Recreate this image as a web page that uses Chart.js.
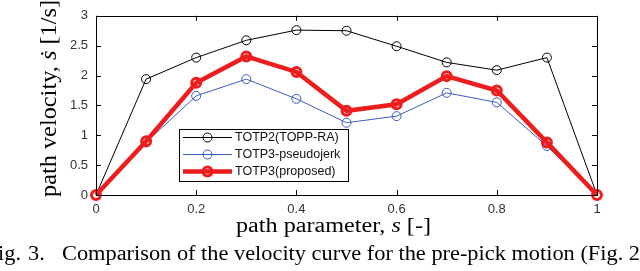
<!DOCTYPE html>
<html>
<head>
<meta charset="utf-8">
<script src="https://cdn.jsdelivr.net/npm/chart.js@4.4.1/dist/chart.umd.min.js"></script>
<style>
  html, body { margin: 0; padding: 0; background: #fff; }
  #wrap { width: 640px; height: 271px; }
</style>
</head>
<body>
<div id="wrap"><canvas id="velChart" width="640" height="271"></canvas></div>
<script>
// ----------------- Datos -----------------

const pathParam = [0, 0.1, 0.2, 0.3, 0.4, 0.5, 0.6, 0.7, 0.8, 0.9, 1];
const totp2Topp = [0, 1.94, 2.30, 2.59, 2.76, 2.75, 2.49, 2.22, 2.09, 2.30, 0];
const totp3Pseudo = [0, 0.88, 1.66, 1.94, 1.61, 1.21, 1.32, 1.71, 1.55, 0.82, 0];
const totp3Proposed = [0, 0.90, 1.88, 2.32, 2.06, 1.41, 1.52, 1.99, 1.75, 0.88, 0];

const seriesNames = ['TOTP2(TOPP-RA)', 'TOTP3-pseudojerk', 'TOTP3(proposed)'];
const xTicks = [0, 0.2, 0.4, 0.6, 0.8, 1];
const xTickLabels = ['0', '0.2', '0.4', '0.6', '0.8', '1'];
const yTicks = [0, 0.5, 1, 1.5, 2, 2.5, 3];
const yTickLabels = ['0', '0.5', '1', '1.5', '2', '2.5', '3'];

const toPoints = (ys) => pathParam.map((x, i) => ({ x, y: ys[i] }));

const colors = {
  black: '#000000',
  blue: '#3a5cc0',
  red: '#ee1d1d'
};

const tickFont = { family: '"Liberation Sans", Arial, sans-serif', size: 13 };
const serif = '"Liberation Serif", "Times New Roman", serif';

// ----------------- Helpers de dibujo -----------------

// dibuja texto con partes (normal / cursiva) estirado a un ancho dado
function drawRichFit(ctx, parts, x, y, targetWidth) {
  let total = 0;
  parts.forEach(p => {
    ctx.font = p.font;
    total += ctx.measureText(p.text).width;
  });
  const sx = targetWidth / total;
  ctx.save();
  ctx.translate(x - targetWidth / 2, y);
  ctx.scale(sx, 1);
  ctx.textAlign = 'left';
  let cx = 0;
  parts.forEach(p => {
    ctx.font = p.font;
    ctx.fillText(p.text, cx, 0);
    cx += ctx.measureText(p.text).width;
  });
  ctx.restore();
}

const decorPlugin = {
  id: 'decor',
  afterDraw(chart) {
    const { ctx, chartArea: a, scales } = chart;
    const xs = scales.x;
    const ys = scales.y;
    ctx.save();

    // caja y marcas hacia adentro
    ctx.strokeStyle = '#000';
    ctx.lineWidth = 1;
    ctx.strokeRect(Math.round(a.left) + 0.5, Math.round(a.top) + 0.5,
      Math.round(a.right - a.left), Math.round(a.bottom - a.top));
    const tk = 5;
    ctx.beginPath();
    xTicks.forEach(v => {
      const px = Math.round(xs.getPixelForValue(v)) + 0.5;
      ctx.moveTo(px, a.bottom); ctx.lineTo(px, a.bottom - tk);
      ctx.moveTo(px, a.top); ctx.lineTo(px, a.top + tk);
    });
    yTicks.forEach(v => {
      const py = Math.round(ys.getPixelForValue(v)) + 0.5;
      ctx.moveTo(a.left, py); ctx.lineTo(a.left + tk, py);
      ctx.moveTo(a.right, py); ctx.lineTo(a.right - tk, py);
    });
    ctx.stroke();

    // leyenda
    const lg = { x: 179.5, y: 129.5, w: 169, h: 52 };
    ctx.fillStyle = '#fff';
    ctx.fillRect(lg.x, lg.y, lg.w, lg.h);
    ctx.strokeStyle = '#000';
    ctx.lineWidth = 1;
    ctx.strokeRect(lg.x, lg.y, lg.w, lg.h);
    const rows = [137.5, 154.5, 171.5];
    chart.data.datasets.forEach((ds, i) => {
      const ry = rows[i];
      ctx.strokeStyle = ds.borderColor;
      ctx.lineWidth = ds.borderWidth;
      ctx.beginPath();
      ctx.moveTo(183, ry); ctx.lineTo(232, ry);
      ctx.stroke();
      ctx.lineWidth = ds.pointBorderWidth;
      ctx.beginPath();
      ctx.arc(207.5, ry, ds.pointRadius, 0, Math.PI * 2);
      ctx.stroke();
      ctx.fillStyle = '#111';
      ctx.font = '12.5px "Liberation Sans", Arial, sans-serif';
      ctx.textBaseline = 'middle';
      ctx.textAlign = 'left';
      ctx.fillText(ds.label, 235, ry + 0.5);
    });

    // títulos de ejes
    ctx.fillStyle = '#000';
    ctx.textBaseline = 'alphabetic';
    drawRichFit(ctx, [
      { text: 'path parameter, ', font: '20.5px ' + serif },
      { text: 's', font: 'italic 20.5px ' + serif },
      { text: ' [-]', font: '20.5px ' + serif }
    ], 333.5, 232, 195);

    ctx.save();
    ctx.translate(56, 98.5);
    ctx.rotate(-Math.PI / 2);
    drawRichFit(ctx, [
      { text: 'path velocity, ', font: '24px ' + serif },
      { text: '\u1E61', font: 'italic 24px ' + serif },
      { text: ' [1/s]', font: '24px ' + serif }
    ], 0, 0, 197);
    ctx.restore();

    // pie de figura
    ctx.font = '20.5px ' + serif;
    const capMain = 'Comparison of the velocity curve for the pre-pick motion (Fig. 2';
    const capSx = 578 / ctx.measureText(capMain).width;
    ctx.save();
    ctx.translate(0, 260);
    ctx.scale(capSx, 1);
    ctx.textAlign = 'right';
    ctx.fillText('Fig.', 21 / capSx, 0);
    ctx.textAlign = 'left';
    ctx.fillText('3.', 28 / capSx, 0);
    ctx.fillText(capMain + ')', 62 / capSx, 0);
    ctx.restore();

    ctx.restore();
  }
};

// ----------------- Gráfico -----------------

function initChart() {
  const ctx = document.getElementById('velChart').getContext('2d');

  new Chart(ctx, {
    type: 'line',
    data: {
      datasets: [{
        label: seriesNames[0],
        data: toPoints(totp2Topp),
        borderColor: colors.black,
        borderWidth: 1,
        pointRadius: 4.5,
        pointBorderWidth: 1,
        pointBorderColor: colors.black,
        pointBackgroundColor: 'rgba(0,0,0,0)',
        order: 3,
        clip: false
      }, {
        label: seriesNames[1],
        data: toPoints(totp3Pseudo),
        borderColor: colors.blue,
        borderWidth: 1,
        pointRadius: 4.5,
        pointBorderWidth: 1,
        pointBorderColor: colors.blue,
        pointBackgroundColor: 'rgba(0,0,0,0)',
        order: 2,
        clip: false
      }, {
        label: seriesNames[2],
        data: toPoints(totp3Proposed),
        borderColor: colors.red,
        borderWidth: 4.5,
        pointRadius: 4.5,
        pointBorderWidth: 3,
        pointBorderColor: colors.red,
        pointBackgroundColor: 'rgba(0,0,0,0)',
        order: 1,
        clip: false
      }]
    },
    options: {
      responsive: false,
      animation: false,
      layout: { padding: { top: 5, right: 43, left: 0, bottom: 0 } },
      plugins: {
        legend: { display: false },
        tooltip: { enabled: false }
      },
      elements: { line: { tension: 0 } },
      scales: {
        x: {
          type: 'linear',
          min: 0,
          max: 1,
          afterBuildTicks: s => { s.ticks = xTicks.map(v => ({ value: v })); },
          afterFit: s => { s.height = 76; },
          ticks: {
            font: tickFont,
            color: '#333',
            padding: 7,
            maxRotation: 0,
            callback: (v) => xTickLabels[xTicks.indexOf(v)] ?? ''
          },
          grid: { drawOnChartArea: false, drawTicks: false },
          border: { display: false }
        },
        y: {
          type: 'linear',
          min: 0,
          max: 3,
          afterBuildTicks: s => { s.ticks = yTicks.map(v => ({ value: v })); },
          afterFit: s => { s.width = 96; },
          ticks: {
            font: tickFont,
            color: '#333',
            padding: 8,
            callback: (v) => yTickLabels[yTicks.indexOf(v)] ?? ''
          },
          grid: { drawOnChartArea: false, drawTicks: false },
          border: { display: false }
        }
      }
    },
    plugins: [decorPlugin]
  });
}

document.addEventListener('DOMContentLoaded', initChart);
</script>
</body>
</html>
